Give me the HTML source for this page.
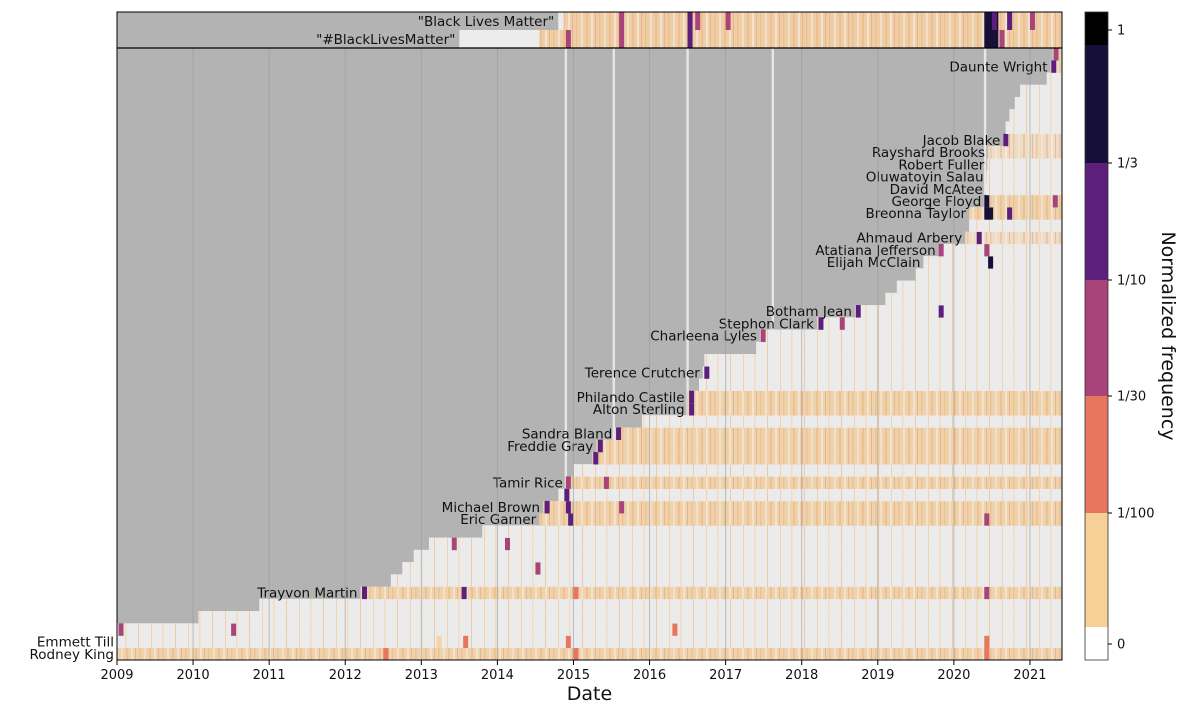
<!DOCTYPE html>
<html><head><meta charset="utf-8">
<style>
body{margin:0;background:#fff;width:1200px;height:714px;overflow:hidden;font-family:"Liberation Sans","DejaVu Sans",sans-serif;}
svg text{font-family:"DejaVu Sans","Liberation Sans",sans-serif;}
</style></head>
<body>
<svg id="chart" width="1200" height="714" xmlns="http://www.w3.org/2000/svg">
<defs>
<pattern id="stripes" width="23" height="10" patternUnits="userSpaceOnUse">
<rect x="1" width="1.5" height="10" fill="#e9b98c" opacity="0.6"/>
<rect x="6" width="2" height="10" fill="#f2e4d2" opacity="0.8"/>
<rect x="11" width="2" height="10" fill="#eab17f" opacity="0.5"/>
<rect x="16" width="2" height="10" fill="#f4ece2" opacity="0.7"/>
<rect x="20" width="1" height="10" fill="#e29a78" opacity="0.5"/>
</pattern>
<pattern id="sparse" width="37" height="10" patternUnits="userSpaceOnUse">
<rect x="3" width="1" height="10" fill="#efd3ae"/>
<rect x="14" width="1.5" height="10" fill="#f2dcc0"/>
<rect x="27" width="1" height="10" fill="#eccaa2"/>
</pattern>
</defs>
<g id="plot"></g>
</svg>
<script>
// ---- data ----
const rowNames = ["Rodney King","Emmett Till","","","","Trayvon Martin","","","","","","Eric Garner","Michael Brown","","Tamir Rice","","","Freddie Gray","Sandra Bland","","Alton Sterling","Philando Castile","","Terence Crutcher","","","Charleena Lyles","Stephon Clark","Botham Jean","","","","Elijah McClain","Atatiana Jefferson","Ahmaud Arbery","","Breonna Taylor","George Floyd","David McAtee","Oluwatoyin Salau","Robert Fuller","Rayshard Brooks","Jacob Blake","","","","","","Daunte Wright",""];
const rowStarts = [2009.0,2009.0,2009.0,2010.07,2010.87,2012.2,2012.6,2012.75,2012.9,2013.1,2013.8,2014.55,2014.6,2014.8,2014.9,2015.0,2015.25,2015.3,2015.55,2015.9,2016.5,2016.5,2016.65,2016.7,2016.72,2017.4,2017.45,2018.2,2018.7,2019.1,2019.25,2019.5,2019.6,2019.8,2020.15,2020.2,2020.2,2020.4,2020.42,2020.43,2020.44,2020.45,2020.65,2020.68,2020.73,2020.8,2020.87,2021.22,2021.27,2021.3];
const rowBase = [1.5,0.5,0.5,0,0.5,2,0.3,0.5,0.3,0.3,0,2,2,0.3,1.5,0.3,1.5,1.5,1.5,0.2,1.5,1.5,0.2,0.5,0.2,0.2,0.5,0.5,0.7,0.3,0.2,0.2,0.5,0.5,1,0.3,1.5,2,0.3,0.5,0.5,1,1,0.2,0.2,0.2,0.2,0.2,1,1];
const rowSpikes = [
 [[2012.5,2],[2015,2],[2020.4,2]],
 [[2013.2,1],[2013.55,2],[2014.9,2],[2020.4,2]],
 [[2009.02,3],[2010.5,3],[2016.3,2]],
 [],[],
 [[2012.22,4],[2013.53,4],[2015,2],[2020.4,3]],
 [],[[2014.5,3]],[],[[2013.4,3],[2014.1,3]],[],
 [[2014.93,4],[2020.4,3]],
 [[2014.62,4],[2014.9,4],[2015.6,3]],
 [[2014.88,4]],
 [[2014.9,3],[2015.4,3]],
 [],[[2015.26,4]],[[2015.32,4]],[[2015.56,4]],[],
 [[2016.52,4]],[[2016.52,4]],[],[[2016.72,4]],[],[],
 [[2017.46,3]],[[2018.22,4],[2018.5,3]],[[2018.71,4],[2019.8,4]],
 [],[],[],[[2020.45,5]],[[2019.8,3],[2020.4,3]],[[2020.3,4]],[],
 [[2020.4,5],[2020.45,5],[2020.7,4]],[[2020.4,5],[2021.3,3]],
 [],[],[],[],[[2020.65,4]],[],[],[],[],[],[[2021.28,4]],[[2021.31,3]]
];
const topNames = ["\"Black Lives Matter\"","\"#BlackLivesMatter\""];
const topStarts = [2014.8,2013.5];
const topTanStarts = [2014.87,2014.55];
const topSpikes = [
 [[2015.6,3],[2016.5,4],[2016.6,3],[2017.0,3],[2020.4,5],[2020.5,4],[2020.7,4],[2021.0,3]],
 [[2014.9,3],[2015.6,3],[2016.5,4],[2020.4,5],[2020.6,3]]
];
const yearTicks = [2009,2010,2011,2012,2013,2014,2015,2016,2017,2018,2019,2020,2021];
const gapDates = [2014.9,2015.53,2016.5,2017.62,2020.41];
const cbLabels = ["1","1/3","1/10","1/30","1/100","0"];

// ---- scales ----
const X0=117,X1=1062,Y_TOP=12,Y_MID=48,Y_BOT=660;
const x = d => X0 + (d-2009)*76.08;
const rowH = (Y_BOT-Y_MID)/rowNames.length;
const yRow = i => Y_BOT - (i+1)*rowH;
const levelColors = ["#ebebeb","#f5d3a3","#e8765f","#a8447a","#5c1f7b","#160f38","#000000"];
const NS="http://www.w3.org/2000/svg";
const g=document.getElementById('plot');
function mk(tag,attrs,parent){const e=document.createElementNS(NS,tag);for(const k in attrs)e.setAttribute(k,attrs[k]);(parent||g).appendChild(e);return e;}
function baseFill(b){return b>=1.5?"#efd1aa":b>=1?"#eedcc6":"#ebebeb";}

let bg=mk('rect',{x:X0,y:Y_TOP,width:X1-X0,height:Y_BOT-Y_TOP,fill:'#b3b3b3'});


gapDates.forEach(d=>{const l=mk('rect',{x:x(d)-1.2,y:Y_MID,width:2.4,height:Y_BOT-Y_MID,fill:'#e6e6e6'});

});

rowNames.forEach((n,i)=>{
 const y=yRow(i), sx=x(rowStarts[i]);
 const r=mk('rect',{x:sx,y:y,width:X1-sx,height:rowH+0.3,fill:baseFill(rowBase[i])});
 
 
 const t=mk('rect',{x:sx,y:y,width:X1-sx,height:rowH+0.3,fill:rowBase[i]>=1?'url(#stripes)':'url(#sparse)'});
 
 
 rowSpikes[i].forEach(([d,lv])=>{
  const s=mk('rect',{x:x(d),y:y,width:5,height:rowH+0.3,fill:levelColors[lv]});
  
  
 });
 if(n){
  const tx=mk('text',{x:sx-3,y:y+rowH/2+5,'text-anchor':'end','font-size':13.5,fill:'#111'});
  tx.textContent=n;
  
  
 }
});
const topH=(Y_MID-Y_TOP)/2;
topNames.forEach((n,i)=>{
 const y=Y_TOP+i*topH;
 const a=mk('rect',{x:x(topStarts[i]),y:y,width:X1-x(topStarts[i]),height:topH,fill:'#ececec'});
 
 
 const b=mk('rect',{x:x(topTanStarts[i]),y:y,width:X1-x(topTanStarts[i]),height:topH,fill:'#efcea5'});
 
 
 const c=mk('rect',{x:x(topTanStarts[i]),y:y,width:X1-x(topTanStarts[i]),height:topH,fill:'url(#stripes)'});
 
 
 topSpikes[i].forEach(([d,lv])=>{
  const s=mk('rect',{x:x(d),y:y,width:lv>=5?14:5,height:topH,fill:levelColors[lv]});
  
  
 });
 const tx=mk('text',{x:x(topStarts[i])-4,y:y+topH/2+5,'text-anchor':'end','font-size':13.5,fill:'#111'});
 tx.textContent=n;
 
 
});
yearTicks.forEach(yr=>{
 const gx=x(yr);
 const gl=mk('line',{x1:gx,x2:gx,y1:Y_MID,y2:Y_BOT,stroke:'#999',"stroke-width":1,opacity:0.6});
 
 
 const tk=mk('line',{x1:gx,x2:gx,y1:Y_BOT,y2:Y_BOT+5,stroke:'#000'});
 
 
 const tl=mk('text',{x:gx,y:Y_BOT+19,'text-anchor':'middle','font-size':13,fill:'#111'});
 tl.textContent=String(yr);
 
 
});
const f1=mk('rect',{x:X0,y:Y_TOP,width:X1-X0,height:Y_BOT-Y_TOP,fill:'none',stroke:'#000','stroke-width':1});


const f2=mk('line',{x1:X0,x2:X1,y1:Y_MID,y2:Y_MID,stroke:'#000','stroke-width':1.2});


const xt=mk('text',{x:(X0+X1)/2,y:700,'text-anchor':'middle','font-size':19,fill:'#111'});
xt.textContent='Date';


const cbSegs=[[12,45,'#000000'],[45,163,'#160f38'],[163,280,'#5c1f7b'],[280,396,'#a8447a'],[396,513,'#e8765f'],[513,627,'#f7d097'],[627,660,'#ffffff']];
cbSegs.forEach(([a,b,c])=>{const r=mk('rect',{x:1085,y:a,width:23,height:b-a,fill:c});

});
const cbf=mk('rect',{x:1085,y:12,width:23,height:648,fill:'none',stroke:'#333','stroke-width':0.8});


const cbY=[30,163,280,396,513,644];
cbLabels.forEach((lab,i)=>{
 const tk=mk('line',{x1:1108,x2:1112,y1:cbY[i],y2:cbY[i],stroke:'#000'});
 
 
 const t=mk('text',{x:1117,y:cbY[i]+4.5,'font-size':13,fill:'#111'});
 t.textContent=lab;
 
 
});
const ct=mk('text',{x:0,y:0,'font-size':19,fill:'#111','text-anchor':'middle',transform:'translate(1162,336) rotate(90)'});
ct.textContent='Normalized frequency';


</script>
</body></html>
